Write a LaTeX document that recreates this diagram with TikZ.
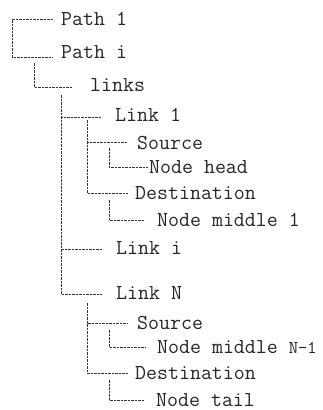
\documentclass[tikz,border=0pt]{standalone}
\usepackage{fontspec}
\begin{document}
\begin{tikzpicture}[x=1pt,y=-1pt,
  txt/.style={anchor=west, inner sep=0pt, text height=12.6pt, text depth=0pt,
    font=\ttfamily\fontsize{21.3}{22}\selectfont, text=black!85},
  conn/.style={draw=black!80, line width=0.8pt, dash pattern=on 2.5pt off 1pt}]
\useasboundingbox (0,0) rectangle (323,410);

% tree entries
\node[txt] (p1)    at (61,19)  {Path 1};
\node[txt] (pi)    at (61,52)  {Path i};
\node[txt] (links) at (90,85)  {links};
\node[txt] (link1) at (115,115) {Link 1};
\node[txt] (src1)  at (137,143) {Source};
\node[txt] (head)  at (149,167) {Node head};
\node[txt] (dst1)  at (135,193) {Destination};
\node[txt] (mid1)  at (157,220) {Node middle 1};
\node[txt] (linki) at (116,248) {Link i};
\node[txt] (linkN) at (116,293) {Link N};
\node[txt] (srcN)  at (137,323) {Source};
\node[txt] (midN)  at (157,347) {Node middle {\fontsize{18}{18}\selectfont N-1}};
\node[txt] (dstN)  at (135,373) {Destination};
\node[txt] (tail)  at (156,400) {Node tail};

% bracket joining the two paths
\draw[conn] ([shift={(-8,0)}]p1.west) -- ++(-41,0) |- ([shift={(-8,5)}]pi.west);
% path i -> links
\draw[conn] ([shift={(-27,11)}]pi.west) |- ([shift={(-17,2)}]links.west);
% links -> individual links
\draw[conn] ([shift={(-29,10)}]links.west) |- ([shift={(-13,2)}]link1.west);
\draw[conn] ([shift={(-29,10)}]links.west) |- ([shift={(-14,1)}]linki.west);
\draw[conn] ([shift={(-29,10)}]links.west) |- ([shift={(-14,1)}]linkN.west);
% link 1 subtree
\draw[conn] ([shift={(-28,5)}]link1.west) |- ([shift={(-9,-1)}]src1.west);
\draw[conn] ([shift={(-28,5)}]link1.west) |- ([shift={(-7,0)}]dst1.west);
\draw[conn] ([shift={(-28,5)}]src1.west) |- ([shift={(-1,0)}]head.west);
\draw[conn] ([shift={(-26,7)}]dst1.west) |- ([shift={(-12,0)}]mid1.west);
% link N subtree
\draw[conn] ([shift={(-29,10)}]linkN.west) |- ([shift={(-9,0)}]srcN.west);
\draw[conn] ([shift={(-29,10)}]linkN.west) |- ([shift={(-7,0)}]dstN.west);
\draw[conn] ([shift={(-28,7)}]srcN.west) |- ([shift={(-12,0)}]midN.west);
\draw[conn] ([shift={(-26,7)}]dstN.west) |- ([shift={(-11,0)}]tail.west);
\end{tikzpicture}
\end{document}
